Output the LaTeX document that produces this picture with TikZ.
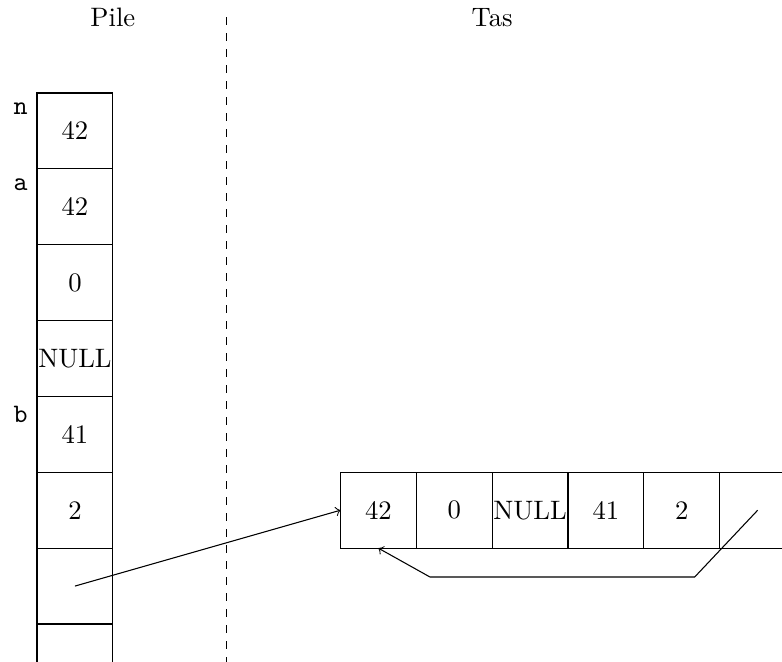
\documentclass[tikz,border=0pt]{standalone}
\begin{document}
\begin{tikzpicture}[
  cell/.style={draw, minimum size=1cm, inner sep=0pt, outer sep=0pt},
  varname/.style={anchor=north east, font=\ttfamily},
  title/.style={},
  link/.style={->},
  sep/.style={dashed}
]
\useasboundingbox (-0.4877,-7.488) rectangle (9.821,1.226);

% titles
\node[title] (tpile) at (1,1) {Pile};
\node[title] (ttas) at (6,1) {Tas};

% separator between stack and heap
\coordinate (d1) at (2.5,1);
\coordinate (d2) at (2.5,-7.6);
\draw[sep] (d1) -- (d2);

% stack cells
\node[cell] (s0) at (0.5,-0.5) {42};
\node[cell] (s1) at (0.5,-1.5) {42};
\node[cell] (s2) at (0.5,-2.5) {0};
\node[cell] (s3) at (0.5,-3.5) {NULL};
\node[cell] (s4) at (0.5,-4.5) {41};
\node[cell] (s5) at (0.5,-5.5) {2};
\node[cell] (s6) at (0.5,-6.5) {};
\node[cell] (s7) at (0.5,-7.5) {};

% variable names
\node[varname] (vn) at (s0.north west) {n};
\node[varname] (va) at (s1.north west) {a};
\node[varname] (vb) at (s4.north west) {b};

% heap cells
\node[cell] (h0) at (4.5,-5.5) {42};
\node[cell] (h1) at (5.5,-5.5) {0};
\node[cell] (h2) at (6.5,-5.5) {NULL};
\node[cell] (h3) at (7.5,-5.5) {41};
\node[cell] (h4) at (8.5,-5.5) {2};
\node[cell] (h5) at (9.5,-5.5) {};

% pointers
\draw[link] (s6.center) -- (h0.west);
\coordinate (c1) at (8.67,-6.38);
\coordinate (c2) at (5.18,-6.38);
\draw[link] (h5.center) -- (c1) -- (c2) -- (h0.south);
\end{tikzpicture}
\end{document}
